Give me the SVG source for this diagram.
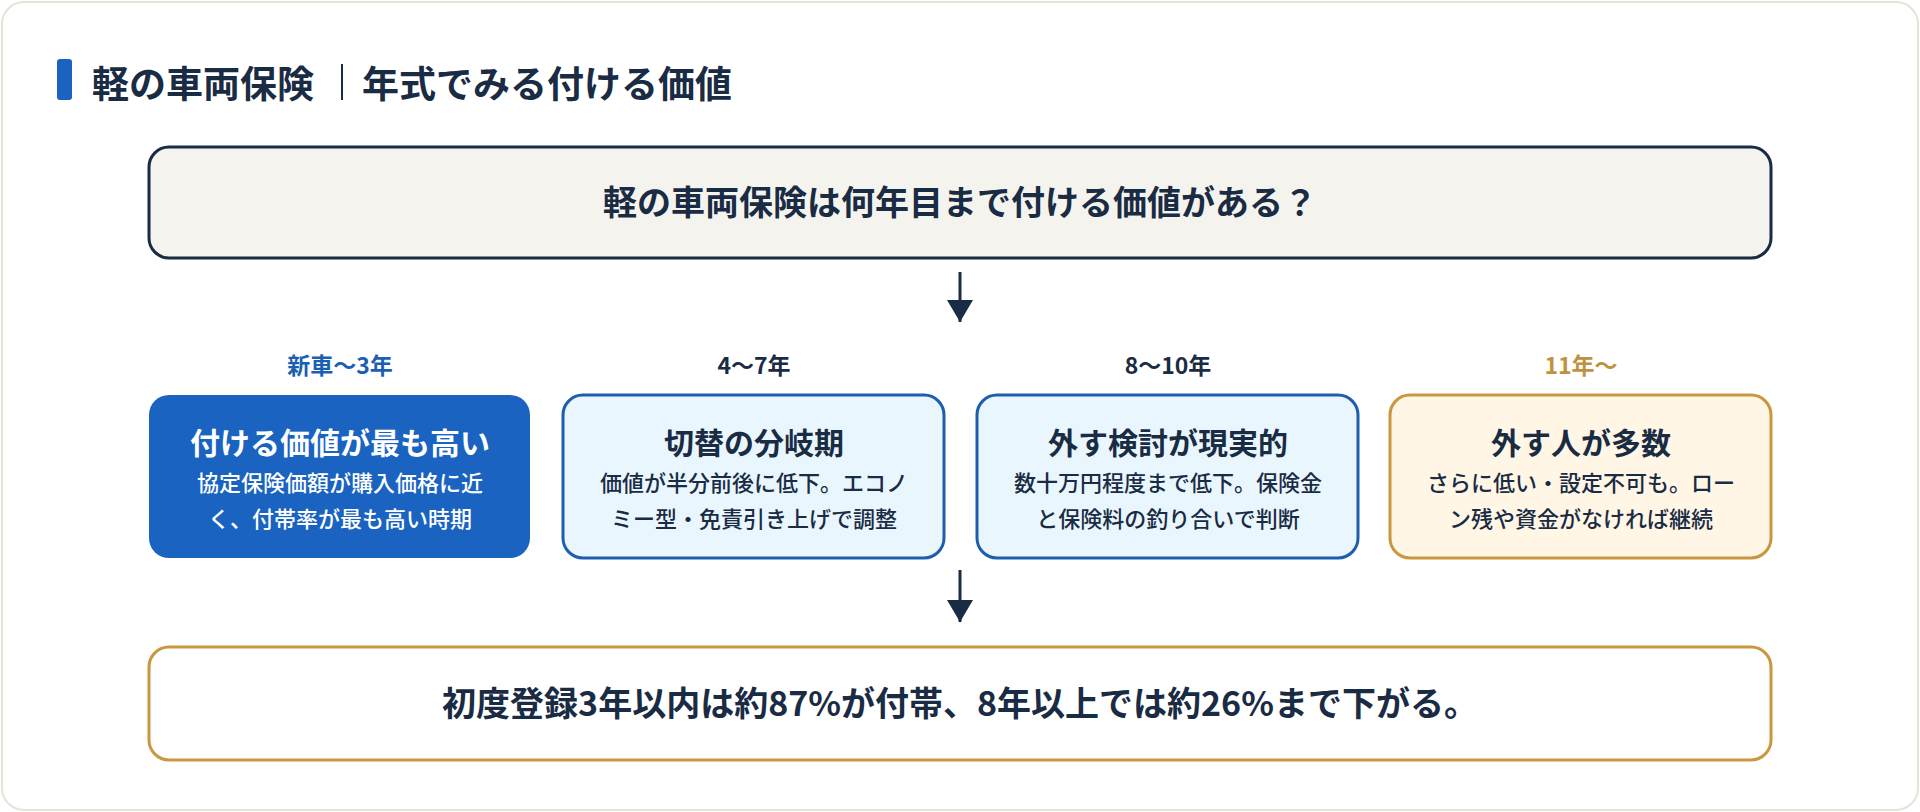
<svg xmlns="http://www.w3.org/2000/svg" width="1920" height="812" viewBox="0 0 1920 812">
<style>
text{font-family:"Noto Sans CJK JP","Noto Sans",sans-serif;font-weight:700;text-anchor:middle;fill:#1a2b44}
.lab{font-size:23px}
.t{font-size:30px}
.s{font-size:22px;font-weight:500}
.w{fill:#ffffff}
.blue{fill:#e9f6fd;stroke:#1d5fae;stroke-width:3}
</style>
<defs><marker id="ah" markerWidth="10" markerHeight="10" refX="5" refY="9" orient="auto" markerUnits="userSpaceOnUse" viewBox="0 0 10 10"><path d="M0,0 L10,0 L5,10 Z" fill="#1a2b44"/></marker>
<marker id="a" viewBox="0 0 26 22" markerWidth="26" markerHeight="22" refX="13" refY="22" orient="0" markerUnits="userSpaceOnUse"><path d="M0,0 L26,0 L13,22 Z" fill="#1a2b44"/></marker></defs>
<rect x="2" y="2" width="1916" height="808" rx="22" fill="#ffffff" stroke="#e6e3d9" stroke-width="2"/>
<g id="title"><rect x="57" y="59" width="15" height="41" rx="3" fill="#1a63c0"/>
<text x="92" y="98" style="font-size:37px;text-anchor:start">軽の車両保険</text>
<line x1="342" y1="64" x2="342" y2="100" stroke="#1a2b44" stroke-width="2"/>
<text x="362" y="98" style="font-size:37px;text-anchor:start">年式でみる付ける価値</text></g>
<g id="question"><rect x="149" y="147" width="1622" height="111" rx="20" fill="#f5f3ee" stroke="#1a2b44" stroke-width="3"/>
<text x="960" y="215" style="font-size:34px">軽の車両保険は何年目まで付ける価値がある？</text></g>
<g id="connectors" stroke="#1a2b44" stroke-width="3">
<line x1="960" y1="272" x2="960" y2="322" marker-end="url(#a)"/>
<line x1="960" y1="570" x2="960" y2="622" marker-end="url(#a)"/></g>
<g id="n1"><text class="lab" x="340" y="374" style="fill:#1a5fb4">新車〜3年</text>
<rect x="149" y="395" width="381" height="163" rx="20" fill="#1a63c0"/>
<text class="t w" x="340" y="454">付ける価値が最も高い</text>
<text class="s w" x="340" y="491">協定保険価額が購入価格に近</text>
<text class="s w" x="340" y="527">く、付帯率が最も高い時期</text></g>
<g id="n2"><text class="lab" x="754" y="374">4〜7年</text>
<rect x="563" y="395" width="381" height="163" rx="20" class="blue"/>
<text class="t" x="754" y="454">切替の分岐期</text>
<text class="s" x="754" y="491">価値が半分前後に低下。エコノ</text>
<text class="s" x="754" y="527">ミー型・免責引き上げで調整</text></g>
<g id="n3"><text class="lab" x="1168" y="374">8〜10年</text>
<rect x="977" y="395" width="381" height="163" rx="20" class="blue"/>
<text class="t" x="1168" y="454">外す検討が現実的</text>
<text class="s" x="1168" y="491">数十万円程度まで低下。保険金</text>
<text class="s" x="1168" y="527">と保険料の釣り合いで判断</text></g>
<g id="n4"><text class="lab" x="1581" y="374" style="fill:#c0923e">11年〜</text>
<rect x="1390" y="395" width="381" height="163" rx="20" fill="#fff6e5" stroke="#c9973f" stroke-width="3"/>
<text class="t" x="1581" y="454">外す人が多数</text>
<text class="s" x="1581" y="491">さらに低い・設定不可も。ロー</text>
<text class="s" x="1581" y="527">ン残や資金がなければ継続</text></g>
<g id="summary"><rect x="149" y="647" width="1622" height="113" rx="20" fill="#ffffff" stroke="#c9973f" stroke-width="3"/>
<text x="960" y="716" style="font-size:34px">初度登録3年以内は約87%が付帯、8年以上では約26%まで下がる。</text></g>
</svg>
